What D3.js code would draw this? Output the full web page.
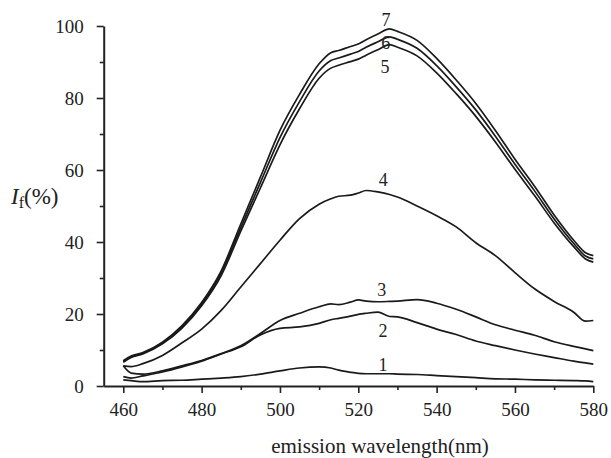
<!DOCTYPE html>
<html>
<head>
<meta charset="utf-8">
<script src="https://cdn.jsdelivr.net/npm/d3@7"></script>
<style>
  body { margin: 0; background: #fff; }
  #chart { width: 611px; height: 458px; }
  text { font-family: "Liberation Serif", "Times New Roman", serif; fill: #222; }
</style>
</head>
<body>
<div id="chart"></div>
<script>
// Wavelength grid (nm) shared by every curve
const wavelengths = [460, 462, 465, 470, 475, 480, 485, 490, 495, 500, 505, 510, 513, 515, 518, 520,
    522, 525, 528, 530, 535, 540, 545, 550, 555, 560, 565, 570, 575, 578, 580];

// Relative fluorescence intensity (%), curves 1..7
const curve1 = [1.7, 1.5, 1.2, 1.5, 1.6, 1.9, 2.2, 2.6, 3.3, 4.2, 5.0, 5.3, 5.0, 4.4, 3.8, 3.5,
    3.4, 3.4, 3.4, 3.3, 3.2, 2.9, 2.6, 2.3, 2.0, 1.9, 1.7, 1.6, 1.5, 1.4, 1.2];
const curve2 = [2.6, 2.2, 2.8, 3.9, 5.3, 6.9, 8.9, 10.9, 14.2, 16.0, 16.4, 17.4, 18.4, 18.8, 19.4, 19.9,
    20.2, 20.5, 19.3, 19.2, 17.6, 15.8, 14.3, 12.5, 11.2, 10.0, 8.9, 7.9, 6.9, 6.4, 6.1];
const curve3 = [5.6, 3.6, 3.3, 4.2, 5.6, 7.1, 9.0, 11.2, 14.6, 18.2, 20.2, 22.0, 22.8, 22.6, 23.3, 23.9,
    23.6, 23.4, 23.5, 23.6, 24.0, 23.0, 21.3, 19.2, 17.0, 15.5, 14.1, 12.3, 11.0, 10.3, 9.8];
const curve4 = [5.6, 5.4, 6.2, 8.5, 12.0, 15.8, 21.0, 27.5, 34.0, 40.5, 46.5, 50.5, 52.0, 52.7, 53.0, 53.6,
    54.3, 53.9, 53.2, 52.5, 50.0, 47.3, 44.2, 39.8, 36.2, 31.5, 27.0, 23.5, 20.5, 18.0, 18.2];
const curve5 = [6.6, 7.9, 8.9, 11.7, 16.1, 22.3, 30.7, 43.0, 55.0, 67.0, 77.0, 85.5, 88.3, 89.1, 90.1, 90.8,
    91.9, 93.4, 94.8, 94.1, 91.7, 87.0, 81.2, 74.9, 67.8, 60.2, 52.9, 45.3, 38.7, 35.3, 34.4];
const curve6 = [6.8, 8.1, 9.1, 12.0, 16.5, 22.8, 31.4, 44.0, 56.5, 69.0, 79.0, 87.5, 90.4, 91.1, 92.2, 92.9,
    94.1, 95.6, 97.0, 96.3, 93.8, 89.0, 83.1, 76.7, 69.4, 61.6, 54.2, 46.4, 39.6, 36.1, 35.3];
const curve7 = [7.0, 8.3, 9.3, 12.2, 16.8, 23.2, 32.0, 45.0, 58.0, 71.0, 81.0, 89.5, 92.6, 93.2, 94.3, 95.0,
    96.2, 97.8, 99.2, 98.5, 96.0, 91.0, 85.0, 78.5, 71.0, 63.0, 55.5, 47.5, 40.5, 37.0, 36.2];

const curves = [curve1, curve2, curve3, curve4, curve5, curve6, curve7];

// Curve number labels, placed in data coordinates
const labelNames = ["1", "2", "3", "4", "5", "6", "7"];
const labelWl = [526.3, 526.3, 526.0, 526.4, 526.8, 527.0, 527.1];
const labelVal = [5.8, 15.4, 26.7, 57.2, 88.6, 95.3, 101.6];

const xMajor = [460, 480, 500, 520, 540, 560, 580];
const xMinor = [470, 490, 510, 530, 550, 570];
const yMajor = [0, 20, 40, 60, 80, 100];
const yMinor = [10, 30, 50, 70, 90];

const W = 611, H = 458;
const svg = d3.select("#chart").append("svg")
    .attr("width", W).attr("height", H)
    .attr("viewBox", `0 0 ${W} ${H}`);

const x = d3.scaleLinear().domain([455, 580]).range([103.7, 593.3]);
const y = d3.scaleLinear().domain([0, 100]).range([386, 26]);

// Axes: majors with labels, minors as short bare ticks
svg.append("g").attr("transform", `translate(0,${y(0)})`)
    .call(d3.axisBottom(x).tickValues(xMajor).tickSize(7).tickSizeOuter(0).tickPadding(10));
svg.append("g").attr("transform", `translate(0,${y(0)})`)
    .call(d3.axisBottom(x).tickValues(xMinor).tickSize(4).tickFormat(""))
    .select(".domain").remove();

svg.append("g").attr("transform", `translate(${x(455)},0)`)
    .call(d3.axisLeft(y).tickValues(yMajor).tickSize(7).tickSizeOuter(0).tickPadding(13));
svg.append("g").attr("transform", `translate(${x(455)},0)`)
    .call(d3.axisLeft(y).tickValues(yMinor).tickSize(4).tickFormat(""))
    .select(".domain").remove();

svg.selectAll(".domain").attr("stroke", "#222").attr("stroke-width", 2);
svg.selectAll(".tick line").attr("stroke", "#222").attr("stroke-width", 1.6);
svg.selectAll(".tick text")
    .style("font-family", "'Liberation Serif', serif")
    .attr("font-size", 19)
    .attr("fill", "#222");

// Curves
const line = d3.line()
    .x((d, i) => x(wavelengths[i]))
    .y(d => y(d))
    .curve(d3.curveMonotoneX);

svg.append("g").selectAll("path")
    .data(curves)
    .join("path")
    .attr("d", line)
    .attr("fill", "none")
    .attr("stroke", "#1a1a1a")
    .attr("stroke-width", 1.7)
    .attr("stroke-linejoin", "round");

// Curve numbers
svg.append("g").selectAll("text")
    .data(labelNames)
    .join("text")
    .attr("x", (d, i) => x(labelWl[i]))
    .attr("y", (d, i) => y(labelVal[i]))
    .attr("text-anchor", "middle")
    .attr("dominant-baseline", "central")
    .attr("font-size", 18)
    .text(d => d);

// Axis titles
const yTitle = svg.append("text")
    .attr("x", 11)
    .attr("y", 204)
    .attr("font-size", 23);
yTitle.append("tspan").attr("font-style", "italic").text("I");
yTitle.append("tspan").attr("font-size", 16).attr("dy", 4).text("f");
yTitle.append("tspan").attr("dy", -4).text("(%)");

svg.append("text")
    .attr("x", 380)
    .attr("y", 453)
    .attr("text-anchor", "middle")
    .attr("font-size", 21)
    .text("emission wavelength(nm)");
</script>
</body>
</html>
